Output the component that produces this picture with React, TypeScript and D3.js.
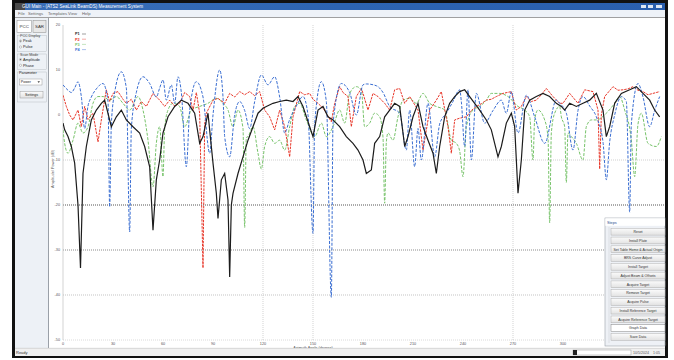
import React from "react";
import * as d3 from "d3";

// traces: [azimuth deg, dB]
const blackTrace = [
  [0, -1.8], [1, -3.3], [3, -4.8], [5, -7], [7, -10.7], [9, -20], [10.5, -34], [12, -13], [14, -7], [17, -1.1],
  [20, 1.1], [23, 2.6], [25, 3.3], [29, -2.6], [32, -0.4], [35, 1.1], [38, -1.1], [42, -2.6], [46, -4], [49, -7],
  [52, -11.5], [54, -25.6], [56, -14.4], [58, -10], [60, -4], [63, -0.4], [67, 1.9], [71, 3.3], [75, 2.6], [79, 0.4],
  [82, -6.3], [84, -4.8], [87, 0.4], [90, -10.7], [92, -17.4], [93, -23], [95, -14.4], [97, -13], [99, -18.9], [100, -36],
  [101, -20], [102, -17.4], [105, -13], [108, -9.3], [111, -5.6], [114, -2.6], [117, 0.4], [120, 1.5], [122, 1.9], [126, 2.6],
  [130, 3], [134, 3.3], [138, 3], [141, 4.1], [144, 1.9], [148, -2.6], [150, -4.8], [153, 1.1], [156, 1.9], [159, -0.4],
  [162, -1.1], [166, -2.6], [170, -4.8], [174, -6.3], [177, -7.8], [180, -10], [182, -13], [185, -12.2], [187, -6.3], [190, -4.8],
  [193, -0.4], [196, 1.1], [199, 2.6], [202, 1.9], [205, -7], [207, -4.8], [210, -0.4], [213, 2.6], [216, -2.6], [219, -5.6],
  [222, -8.5], [224, -13], [226, -7], [229, -0.4], [232, 2.6], [235, 4.1], [238, 5.2], [241, 5.6], [244, 4.1], [247, 2.6],
  [250, 1.1], [254, -1.1], [257, -3.3], [259, -6.3], [261, -9.3], [263, -7], [266, -1.8], [269, 0.4], [271, -2.6], [273, -17.4],
  [275, -10], [277, 1.1], [280, 3.3], [284, 4.1], [288, 4.8], [292, 4.1], [296, 2.6], [299, 1.9], [301, 1.1], [304, 2.6],
  [308, 1.9], [312, 2.6], [316, 3.3], [320, 4.8], [324, 1.1], [326, -4.8], [328, -2.6], [331, 2.6], [335, 4.8], [340, 5.6],
  [344, 6.3], [348, 4.8], [352, 3.3], [355, 1.1], [358, -0.4],
];

const redTrace = [
  [0, 4.4], [2, 1.9], [4, 0], [6, -1.1], [9, 1.1], [11, -2.6], [13, 1.9], [15, -1], [18, 0.4], [21, -6],
  [23, -1.1], [26, 5.6], [28, 3], [30, 4.8], [33, 5.2], [36, 3.5], [38, 2.6], [41, 3.5], [44, 1.1], [47, 3],
  [50, 1.9], [54, 4.8], [58, 3.3], [61, 1.9], [64, 3.3], [67, 2], [70, 2.6], [73, 5], [76, 4.1], [78, 1],
  [80, 5], [82, 0.4], [84, -34], [85, -2], [86, 0.4], [90, 3.3], [93, 3.7], [97, 2.6], [100, 4.8], [103, 4],
  [106, 5.2], [109, 4.5], [112, 5.2], [115, 4.3], [118, 5.2], [121, 1.1], [124, -0.4], [127, -3.3], [130, 1.1], [133, -2.6],
  [136, -9.3], [138, -0.4], [142, 5.2], [145, 4.5], [148, 4.8], [150, 3.5], [153, 2.6], [156, 1.5], [158, 0.4], [161, -1.5],
  [163, 2.6], [166, 6.3], [168, 5], [171, 4.1], [173, -2.6], [176, 4.1], [179, 5.9], [180, 4.8], [183, 1.1], [186, 4.8],
  [189, 4.1], [193, 2.6], [196, 1.1], [199, 5.6], [202, 5.9], [205, 2.6], [208, 4.1], [213, 1.1], [216, -7.8], [220, 1.1],
  [224, 3.3], [227, 5.2], [231, -2.6], [233, -8.5], [235, -1.1], [238, -0.7], [242, -0.4], [245, 1], [248, 1.9], [251, 2.5],
  [254, 3.3], [257, 3.5], [260, 4.1], [264, 4.8], [269, 5.2], [272, 1.1], [275, 1.9], [278, 4.1], [281, 3], [284, 3.3],
  [287, 4.5], [290, 5.9], [294, 4.1], [298, 2.6], [300, 2.6], [304, 4.8], [309, 2.6], [313, 5.6], [318, 5.2], [321, 1.1],
  [322, -12], [323, 0], [325, 4.1], [330, 6.3], [333, 5.5], [336, 5.6], [339, 5.8], [342, 6.3], [345, 5.5], [348, 5.2],
  [351, 4.5], [354, 4.8], [358, 5.2],
];

const greenTrace = [
  [0, -3.3], [1, -6.3], [3, -8.5], [6, -5.6], [9, -1.8], [12, -4], [15, -2.6], [18, 2.6], [21, 4.1], [24, 4.1],
  [28, 3.3], [32, 4.1], [36, 2.6], [40, 1.1], [45, 4.1], [48, 1.1], [51, -5.6], [54, -16], [56, -6.3], [58, -2.6],
  [60, -13.7], [61, -3], [63, 1.1], [66, 2.6], [70, 1.9], [73, -2.6], [77, 1.1], [82, 1.9], [87, 2.6], [92, 3.7],
  [96, 2.6], [99, 1.1], [102, -2.6], [105, 1.1], [108, -3], [109, -25], [110, -5], [111, -4.8], [114, -2.6], [117, -8.5],
  [119, -12], [121, -7], [124, -4.8], [127, -6.3], [130, -5.6], [133, -7.8], [136, -2.6], [139, 1.9], [142, 2.6], [146, -1.1],
  [151, -4.8], [155, -1.8], [158, -4.8], [162, -2.6], [166, 1.1], [169, -1.8], [172, 4.8], [176, 6.3], [179, 5.6], [181, -2.6],
  [184, -1.8], [187, 0.4], [190, -0.4], [192, -5], [193, -19.6], [194, -6], [195, -4], [198, -5.6], [201, -0.4], [204, 3.3],
  [208, 3.7], [212, 2.6], [216, 4.8], [220, 2.6], [224, 1.9], [229, 1.1], [233, -5.6], [236, -6.3], [238, -8], [240, -13.7],
  [242, -2.6], [246, 1.1], [250, 1.9], [254, 3.3], [257, 4.8], [262, 4.8], [267, 4.1], [273, 1.9], [277, 1.1], [280, -0.4],
  [282, -10], [283, -1], [285, 1.1], [289, -1.1], [291, -5], [292, -24], [293, -4], [295, 0.4], [298, 1.9], [299, -0.4],
  [301, -2.6], [302, -15], [303, -4], [305, -4.8], [308, -6.3], [312, -10], [314, -2.6], [317, -1.1], [320, -1.1], [326, 0.4],
  [331, 2.6], [334, 4.1], [337, 1.1], [341, -5.6], [343, -13.7], [345, -2], [347, 0.4], [351, -6.3], [356, -7], [359, -4.8],
];

const blueTrace = [
  [0, 6.7], [3, 5.5], [5, 5], [7, 6], [9, 7.4], [11, 4.1], [13, -3], [15, 2], [17, 4], [20, 5.8],
  [24, 7], [27, 3], [28, -20.4], [29, -2], [31, 5], [35, 9.6], [38, 6], [40, -26], [41, -3], [44, 5],
  [48, 8.5], [52, 7], [56, 4], [58, 6], [60, 7.8], [62, 3.3], [65, 6.7], [67, 2.6], [69, 8.5], [71, 5],
  [74, -11.5], [76, 1], [80, 7.4], [84, 4], [88, -8.5], [90, 0], [94, 10], [96, 4], [97, -4.8], [100, -9.3],
  [103, 0], [106, 3], [109, 1], [112, -3], [115, 3], [119, 8.9], [123, 6.7], [127, 8.5], [130, 4], [133, -4],
  [136, -1], [140, 2], [144, 4.1], [147, 0], [150, -26.3], [151, -2], [155, 7.4], [158, 3], [161, -40.5], [162, -2],
  [167, 7], [172, 5], [176, 0], [180, 6.7], [182, 6.9], [188, 6.5], [192, 5], [196, 1.9], [202, 0.4], [206, -7.8],
  [208, 1.1], [211, -11.5], [213, -3], [215, -10], [219, 2.6], [223, -9.3], [226, -2], [230, 0.4], [234, 3], [238, 5.6],
  [239, 3], [241, -7], [243, 5.6], [245, -10], [248, 4.8], [253, -1.8], [258, 1], [263, 3.3], [266, 0.4], [269, 5.2],
  [273, -4], [278, 4.4], [283, -0.4], [289, -6.3], [296, 3.3], [298, 2.6], [302, 0.4], [306, -7.8], [309, 1], [312, 4.1],
  [316, 2], [320, -0.4], [324, -6], [326, -14.4], [328, -6], [331, 0], [335, 4.1], [338, 3], [340, -21.6], [341, -2],
  [345, 7], [348, 4], [352, -2.6], [355, 1], [358, 4.1],
];

const yTicks = [20, 10, 0, -10, -20, -30, -40, -50];
const xTicks = [0, 30, 60, 90, 120, 150, 180, 210, 240, 270, 300, 330, 360];
const gridAngles = [120, 150, 270];
const gridLevels = [-10, -20, -30, -40, -50];
const gridColors = ["#c4c4c4", "#2a2a2a", "#6e6e6e", "#b4b4b4", "#d0d0d0"];

const legendNames = ["P1", "P2", "P3", "P4"];
const seriesColors = ["#1c1c1c", "#e8372a", "#77c36a", "#3a6ed2"];

const menuItems = ["File", "Settings", "Templates", "View", "Help"];
const menuX = [18, 28, 48, 68, 82];
const stepButtons = [
  "Reset", "Install Plate", "Set Table Home & Actual Origin", "BRS Curve Adjust", "Install Target",
  "Adjust Beam & Offsets", "Acquire Target", "Remove Target", "Acquire Pulse", "Install Reference Target",
  "Acquire Reference Target", "Graph Data", "Save Data",
];

const font = "'Liberation Sans', Arial, sans-serif";

export default function App() {
  const x = d3.scaleLinear().domain([0, 360]).range([63, 663]);
  const y = d3.scaleLinear().domain([-50, 20]).range([340, 25]);

  const jagged = d3.line<number[]>().x((d) => x(d[0])).y((d) => y(d[1]));
  const smooth = d3
    .line<number[]>()
    .x((d) => x(d[0]))
    .y((d) => y(d[1]))
    .curve(d3.curveMonotoneX);

  return (
    <svg
      width={674}
      height={360}
      style={{ position: "absolute", left: 0, top: 0, display: "block", background: "#fff" }}
      fontFamily={font}
    >
      <defs>
        <linearGradient id="titleGrad" x1="0" x2="1" y1="0" y2="0">
          <stop offset="0" stopColor="#3a6fb8" />
          <stop offset="0.5" stopColor="#2d64b2" />
          <stop offset="1" stopColor="#2a5fae" />
        </linearGradient>
        <linearGradient id="btnGrad" x1="0" x2="0" y1="0" y2="1">
          <stop offset="0" stopColor="#fbfbfb" />
          <stop offset="1" stopColor="#e2e2e2" />
        </linearGradient>
        <clipPath id="plotClip">
          <rect x={63} y={18} width={602} height={329} />
        </clipPath>
      </defs>

      {/* window frame */}
      <rect x={12} y={0} width={656} height={358} fill="#111" />
      <rect x={15} y={3} width={650} height={7} fill="url(#titleGrad)" />
      <rect x={15} y={3} width={10} height={7} fill="#4a4a4a" />
      <text x={22} y={8.4} fontSize={4.6} fill="#fff">
        GUI Main - (ATS2 SeaLink BeamDS) Measurement System
      </text>
      <g fill="#dfe8f5">
        <rect x={641} y={5} width={5} height={3} />
        <rect x={648} y={5} width={5} height={3} />
        <rect x={656} y={5} width={6} height={3} />
      </g>

      {/* menu bar */}
      <rect x={15} y={10} width={650} height={7.5} fill="#eef2f8" />
      <line x1={15} x2={665} y1={17.5} y2={17.5} stroke="#a8a8a8" strokeWidth={0.8} />
      {menuItems.map((m, i) => (
        <text key={m} x={menuX[i]} y={15.3} fontSize={4.2} fill="#666">
          {m}
        </text>
      ))}

      {/* content */}
      <rect x={15} y={18} width={650} height={330} fill="#fff" />

      {/* left panel */}
      <rect x={15} y={18} width={33} height={330} fill="#edf1f6" />
      <line x1={48.5} x2={48.5} y1={18} y2={348} stroke="#9aa0a8" strokeWidth={1} />
      <rect x={17} y={20.5} width={14.5} height={12} fill="#fff" stroke="#8a8a8a" strokeWidth={0.5} />
      <text x={24.2} y={28.2} fontSize={4.4} textAnchor="middle" fill="#333">PCC</text>
      <rect x={33} y={20.5} width={13} height={12} fill="#e8e8e8" stroke="#8a8a8a" strokeWidth={0.5} />
      <text x={39.5} y={28.2} fontSize={4.4} textAnchor="middle" fill="#333">SAR</text>

      <rect x={17.5} y={35.5} width={29} height={16} fill="none" stroke="#b0b4ba" strokeWidth={0.4} />
      <text x={20} y={37} fontSize={3.6} fill="#444">PCC Display</text>
      <circle cx={20.5} cy={41} r={1.1} fill="#fff" stroke="#666" strokeWidth={0.35} />
      <circle cx={20.5} cy={41} r={0.5} fill="#333" />
      <text x={23} y={42.3} fontSize={3.8} fill="#222">Peak</text>
      <circle cx={20.5} cy={47} r={1.1} fill="#fff" stroke="#666" strokeWidth={0.35} />
      <text x={23} y={48.3} fontSize={3.8} fill="#222">Pulse</text>

      <rect x={17.5} y={54} width={29} height={15.5} fill="none" stroke="#b0b4ba" strokeWidth={0.4} />
      <text x={20} y={55.5} fontSize={3.6} fill="#444">Scan Mode</text>
      <circle cx={20.5} cy={59.5} r={1.1} fill="#fff" stroke="#666" strokeWidth={0.35} />
      <circle cx={20.5} cy={59.5} r={0.5} fill="#333" />
      <text x={23} y={60.8} fontSize={3.8} fill="#222">Amplitude</text>
      <circle cx={20.5} cy={65.3} r={1.1} fill="#fff" stroke="#666" strokeWidth={0.35} />
      <text x={23} y={66.6} fontSize={3.8} fill="#222">Phase</text>

      <rect x={17.5} y={72} width={29} height={30} fill="none" stroke="#b0b4ba" strokeWidth={0.4} />
      <text x={19} y={74} fontSize={3.8} fill="#222">Parameter</text>
      <rect x={19.5} y={79} width={22.5} height={6} fill="#fff" stroke="#888" strokeWidth={0.4} />
      <text x={20.8} y={83.4} fontSize={3.6} fill="#222">Power</text>
      <path d="M37.5,81.3 L40,81.3 L38.75,83 Z" fill="#444" />
      <rect x={20} y={91.5} width={23} height={6.5} fill="url(#btnGrad)" stroke="#888" strokeWidth={0.4} />
      <text x={31.5} y={96} fontSize={3.6} textAnchor="middle" fill="#222">Settings</text>

      {/* grid */}
      {gridLevels.map((v, i) => (
        <line
          key={v}
          x1={63}
          x2={665}
          y1={y(v)}
          y2={y(v)}
          stroke={gridColors[i]}
          strokeWidth={0.8}
          strokeDasharray="1,1"
        />
      ))}
      {gridAngles.map((a) => (
        <line
          key={a}
          x1={x(a)}
          x2={x(a)}
          y1={25}
          y2={340}
          stroke="#c8c8c8"
          strokeWidth={0.8}
          strokeDasharray="1,1"
        />
      ))}
      <line x1={63} x2={63} y1={25} y2={340} stroke="#c8c8c8" strokeWidth={0.8} />

      {/* axes labels */}
      {yTicks.map((t) => (
        <text key={t} x={60} y={y(t) + 1.4} fontSize={3.8} textAnchor="end" fill="#555">
          {t}
        </text>
      ))}
      {xTicks.map((t) => (
        <text key={t} x={x(t)} y={344.5} fontSize={3.8} textAnchor="middle" fill="#555">
          {t}
        </text>
      ))}
      <text
        transform={`translate(53.5, ${y(-12)}) rotate(-90)`}
        fontSize={3.8}
        textAnchor="middle"
        fill="#555"
      >
        Amplitude/ Power (dB)
      </text>
      <text x={313} y={348.6} fontSize={3.8} textAnchor="middle" fill="#555">
        Azimuth Angle (degree)
      </text>

      {/* traces */}
      <g clipPath="url(#plotClip)" fill="none">
        <path d={smooth(greenTrace) || ""} stroke={seriesColors[2]} strokeWidth={1} strokeDasharray="3,1.5" />
        <path d={jagged(redTrace) || ""} stroke={seriesColors[1]} strokeWidth={1} strokeDasharray="2.5,1" />
        <path d={smooth(blueTrace) || ""} stroke={seriesColors[3]} strokeWidth={1} strokeDasharray="3,1.5" />
        <path d={jagged(blackTrace) || ""} stroke={seriesColors[0]} strokeWidth={1.2} />
      </g>

      {/* legend */}
      {legendNames.map((n, i) => (
        <g key={n} transform={`translate(75, ${34 + i * 5.2})`}>
          <text x={0} y={1.4} fontSize={3.8} fill={seriesColors[i]} fontWeight="bold">
            {n}
          </text>
          <line x1={7} x2={11} y1={0} y2={0} stroke={seriesColors[i]} strokeWidth={0.7} opacity={0.6} />
        </g>
      ))}

      {/* steps panel */}
      <rect x={605} y={218} width={60} height={128} fill="#eef1f6" stroke="#9aa0a8" strokeWidth={0.6} />
      <rect x={605.3} y={218.3} width={59.7} height={7.5} fill="#fff" />
      <text x={607} y={223.6} fontSize={3.8} fill="#2b4c8c">Steps</text>
      <line x1={609} x2={609} y1={227} y2={343} stroke="#c8ccd2" strokeWidth={0.5} />
      {stepButtons.map((b, i) => {
        const cy = 231.7 + i * 8.77;
        const focus = b === "Graph Data";
        return (
          <g key={b}>
            <rect
              x={611}
              y={cy - 3.4}
              width={54}
              height={6.8}
              fill={focus ? "#fff" : "url(#btnGrad)"}
              stroke={focus ? "#777" : "#a8a8a8"}
              strokeWidth={0.45}
            />
            <text x={638} y={cy + 1.3} fontSize={3.5} textAnchor="middle" fill="#333">
              {b}
            </text>
          </g>
        );
      })}

      {/* status bar */}
      <rect x={15} y={348} width={650} height={8} fill="#f0f0f0" />
      <line x1={15} x2={665} y1={348.3} y2={348.3} stroke="#bbb" strokeWidth={0.5} />
      <text x={16} y={354.3} fontSize={4} fill="#333">Ready</text>
      <rect x={573} y={350} width={58} height={5} fill="#fff" stroke="#999" strokeWidth={0.5} />
      <rect x={573} y={350} width={4} height={5} fill="#222" />
      <text x={633} y={354.3} fontSize={3.6} fill="#555">10/5/2024</text>
      <text x={653} y={354.3} fontSize={3.6} fill="#555">1:05</text>
    </svg>
  );
}
